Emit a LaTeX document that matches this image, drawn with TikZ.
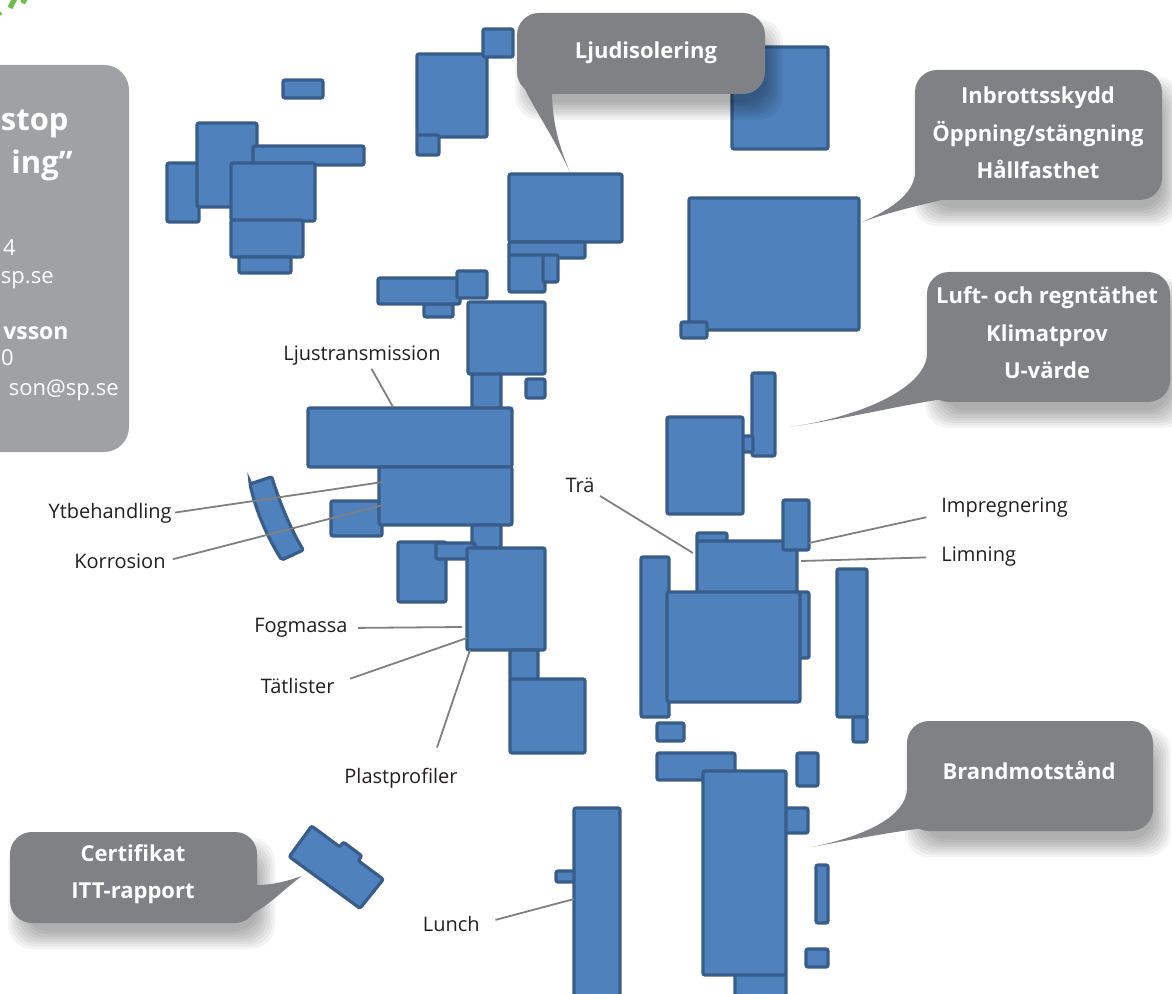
\documentclass[tikz,border=0pt]{standalone}
\usepackage{fontspec}
\setmainfont{Open Sans}
\definecolor{bldfill}{RGB}{79,129,189}
\definecolor{bldline}{RGB}{56,93,138}
\definecolor{callgrey}{RGB}{128,129,133}
\definecolor{infogrey}{RGB}{160,161,165}
\definecolor{linegrey}{RGB}{128,128,128}
\definecolor{labeltext}{RGB}{35,31,32}
\definecolor{logogreen}{RGB}{108,189,69}
\tikzset{
  bld/.style={fill=bldfill, draw=bldline, line width=1.6pt, rounded corners=1pt},
  conn/.style={draw=linegrey, line width=0.9pt},
  lbl/.style={inner sep=0pt, text=labeltext, font=\fontsize{10}{12}\selectfont},
  calltext/.style={inner sep=0pt, text=white, align=center, font=\bfseries\fontsize{11}{18.75}\selectfont},
  callbox/.style={fill=callgrey, rounded corners=11pt},
  infobig/.style={anchor=base east, inner sep=0pt, text=white, font=\bfseries\fontsize{15.5}{17}\selectfont},
  infosmall/.style={anchor=base east, inner sep=0pt, text=white, font=\fontsize{11}{13}\selectfont},
  infobold/.style={anchor=base east, inner sep=0pt, text=white, font=\bfseries\fontsize{11.5}{13}\selectfont}
}
\newcommand\bldg[4]{\draw[bld] (#1,#2) rectangle (#3,#4);}
\newcommand\cshadow[4]{\foreach \k in {0,...,7}{\fill[black,opacity=0.045,rounded corners=12pt] ({#1-2+2.5*\k},{#2+6+2.5*\k}) rectangle ({#3+18-2.5*\k},{#4+26-2.5*\k});}}
\begin{document}
\begin{tikzpicture}[x=0.5pt,y=-0.5pt]
\useasboundingbox (0,0) rectangle (1172,994);
\clip (0,0) rectangle (1172,994);
\fill[white] (0,0) rectangle (1172,994);

% green logo fragments
\draw[logogreen, line width=2.6pt] (14.5,-1) -- (10,8);
\draw[logogreen, line width=2.6pt] (25,-1) -- (22.5,3);
\draw[logogreen, line width=2pt] (-1,14) -- (1,12.5);

% info box on the left
\fill[infogrey, rounded corners=12.5pt] (-40,65) rectangle (129,452);
\node[infobig] (i1) at (69,131) {stop};
\node[infobig] (i2) at (73,174) {ing”};
\node[infosmall] (i3) at (16,256) {4};
\node[infosmall] (i4) at (54,284) {sp.se};
\node[infobold] (i5) at (69,340) {vsson};
\node[infosmall] (i6) at (14,365) {0};
\node[infosmall] (i7) at (119,395) {son@sp.se};

% ---- buildings: top-left cluster
\bldg{283}{80}{323}{98}
\bldg{167}{163}{199}{222}
\bldg{197}{123}{257}{207}
\bldg{253}{146}{364}{165}
\bldg{231}{163}{315}{221}
\bldg{231}{220}{303}{257}
\bldg{239}{257}{291}{273}
% top middle
\bldg{417}{54}{487}{137}
\bldg{483}{29}{513}{57}
\bldg{417}{135}{439}{155}
\bldg{732}{47}{828}{149}
\bldg{509}{174}{622}{242}
\bldg{509}{242}{585}{258}
\bldg{509}{255}{545}{292}
\bldg{543}{255}{558}{282}
\bldg{689}{198}{859}{330}
\bldg{681}{322}{707}{338}
\bldg{424}{304}{453}{317}
\bldg{378}{278}{460}{304}
\bldg{457}{271}{487}{298}
\bldg{472}{372}{501}{410}
\bldg{468}{302}{545}{374}
\bldg{526}{379}{545}{398}
% central column
\bldg{331}{501}{382}{536}
\bldg{308}{408}{512}{467}
\bldg{379}{467}{512}{525}
\draw[bld] (250,484) -- (271.7,476.7) .. controls (280,503) and (290,528) .. (303.3,550) -- (281.7,560) .. controls (268,538) and (256,512) .. cycle;
\bldg{472}{525}{501}{548}
\bldg{398}{542}{446}{602}
\bldg{436}{543}{475}{559}
\bldg{467}{548}{545}{650}
\bldg{510}{650}{538}{682}
\bldg{510}{679}{585}{753}
% right middle
\bldg{752}{373}{775}{456}
\bldg{742}{436}{753}{452}
\bldg{667}{417}{743}{514}
\bldg{697}{533}{727}{543}
\bldg{697}{541}{797}{593}
\bldg{783}{500}{809}{550}
\bldg{797}{592}{809}{658}
\bldg{641}{557}{669}{717}
\bldg{667}{592}{800}{702}
\bldg{837}{569}{867}{717}
\bldg{853}{717}{867}{742}
\bldg{657}{723}{684}{741}
% bottom
\bldg{657}{753}{735}{780}
\bldg{735}{973}{786}{1004}
\bldg{785}{808}{808}{833}
\bldg{703}{771}{786}{975}
\bldg{797}{753}{818}{786}
\bldg{816}{865}{828}{923}
\bldg{806}{949}{828}{967}
\bldg{556}{871}{575}{882}
\bldg{574}{808}{620}{1004}
\draw[bld] (289.3,856.7) -- (311.7,826) -- (339.8,846.9) -- (343.4,842.1) -- (361.8,855.8) -- (358.2,860.6) -- (383.3,879.3) -- (360,908.3) -- cycle;

% ---- labels and leader lines
\node[lbl] (lj) at (362,356) {Ljustransmission};
\coordinate (ljE) at (393,407);
\draw[conn, shorten <=1.5pt] ([xshift=4pt]lj.south) -- (ljE);

\node[lbl, anchor=east] (yt) at (172,513) {Ytbehandling};
\coordinate (ytE) at (383,482);
\draw[conn, shorten <=1.5pt] (yt.east) -- (ytE);

\node[lbl, anchor=east] (ko) at (166,561) {Korrosion};
\coordinate (koE) at (383,505);
\draw[conn, shorten <=3.5pt] (ko.east) -- (koE);

\node[lbl, anchor=east] (fo) at (348,628) {Fogmassa};
\coordinate (foE) at (462,627);
\draw[conn, shorten <=5pt] (fo.east) -- (foE);

\node[lbl, anchor=east] (ta) at (335,686) {Tätlister};
\coordinate (taE) at (467,638);
\draw[conn, shorten <=8pt] ([yshift=1pt]ta.east) -- (taE);

\node[lbl] (pl) at (401,778) {Plastprofiler};
\coordinate (plE) at (470,650);
\draw[conn] ([xshift=18pt,yshift=10pt]pl.north) -- (plE);

\node[lbl] (tr) at (580,485) {Trä};
\coordinate (trE) at (693,553);
\draw[conn, shorten <=3pt] (tr.south east) -- (trE);

\node[lbl, anchor=west] (im) at (941,508) {Impregnering};
\coordinate (imE) at (809,543);
\draw[conn, shorten <=7.5pt] ([yshift=-3pt]im.west) -- (imE);

\node[lbl, anchor=west] (li) at (941,557) {Limning};
\coordinate (liE) at (801,561);
\draw[conn, shorten <=7.5pt] (li.west) -- (liE);

\node[lbl, anchor=east] (lu) at (480,924) {Lunch};
\coordinate (luE) at (574,899);
\draw[conn, shorten <=8pt] (lu.east) -- (luE);

% ---- callouts
\cshadow{517}{13}{765}{94}
\cshadow{915}{70}{1162}{200}
\cshadow{927}{272}{1170}{402}
\cshadow{907}{721}{1153}{831}
\cshadow{10}{832}{257}{923}

\fill[callgrey] (517,65) .. controls (520,90) and (545,120) .. (570,172) .. controls (556,140) and (552,115) .. (552,90) -- cycle;
\fill[callbox] (517,13) rectangle (765,94);
\node[calltext] (cl1) at (646,53) {Ljudisolering};

\fill[callgrey] (915,175) .. controls (912,195) and (890,210) .. (862,222) .. controls (890,212) and (920,205) .. (950,198) -- cycle;
\fill[callbox] (915,70) rectangle (1162,200);
\node[calltext] (cl2) at (1038,133) {Inbrottsskydd\\Öppning/stängning\\Hållfasthet};

\fill[callgrey] (927,355) .. controls (925,385) and (870,415) .. (790,427) .. controls (850,418) and (900,405) .. (950,398) -- cycle;
\fill[callbox] (927,272) rectangle (1170,402);
\node[calltext] (cl3) at (1047,333) {Luft- och regntäthet\\Klimatprov\\U-värde};

\fill[callgrey] (907,790) .. controls (905,815) and (870,835) .. (812,847) .. controls (850,840) and (890,832) .. (925,828) -- cycle;
\fill[callbox] (907,721) rectangle (1153,831);
\node[calltext] (cl4) at (1029,770) {Brandmotstånd};

\fill[callgrey] (257,885) .. controls (275,885) and (290,880) .. (302,876) .. controls (285,888) and (270,905) .. (250,915) -- cycle;
\fill[callbox] (10,832) rectangle (257,923);
\node[calltext] (cl5) at (133,874) {Certifikat\\ITT-rapport};
\end{tikzpicture}
\end{document}
